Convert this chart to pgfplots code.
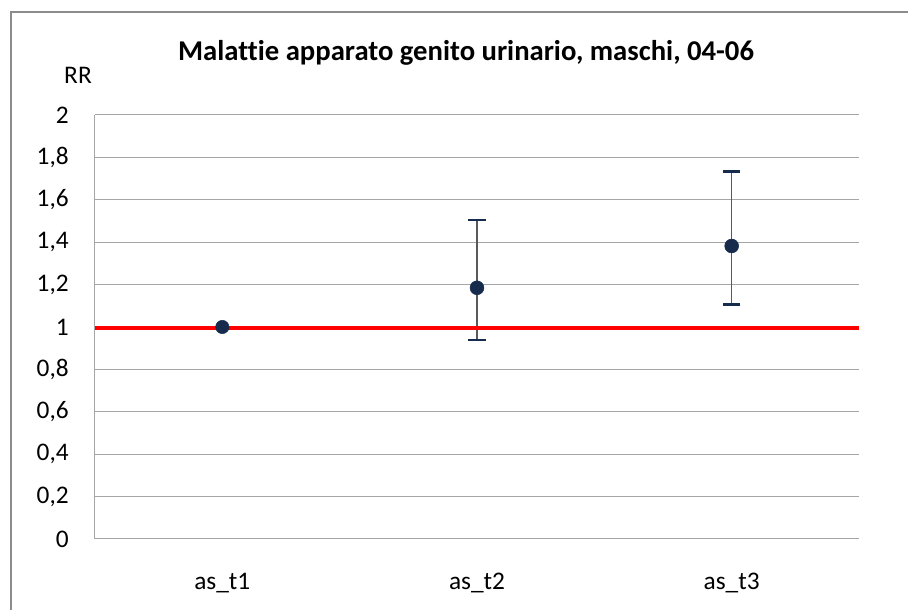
\documentclass[border=0pt]{standalone}
\usepackage{pgfplots}
\pgfplotsset{compat=1.18}
\usepackage{fontspec}
\setmainfont{Carlito}[Ligatures=NoCommon]

\definecolor{navy}{HTML}{172B4D}
\definecolor{errgray}{HTML}{595959}
\definecolor{gridgray}{HTML}{A6A6A6}
\definecolor{framegray}{HTML}{8C8C8C}

\begin{document}
\begin{tikzpicture}
% 1 px of the reference = 0.75pt
\path[use as bounding box] (0pt,0pt) rectangle (681pt,457.5pt);
% chart frame (only left and top edges visible)
\draw[framegray, line width=1.5pt] (8.25pt,0pt) -- (8.25pt,448.5pt) -- (681pt,448.5pt);
\node[font=\fontsize{21.5}{23}\selectfont\bfseries] at (349.5pt,417.5pt) {Malattie apparato genito urinario, maschi, 04-06};
\node[font=\fontsize{19}{21}\selectfont] at (58.5pt,401.25pt) {RR};

\begin{axis}[
  at={(71.25pt,53.25pt)}, anchor=south west,
  scale only axis,
  width=573pt, height=318pt,
  xmin=-0.5, xmax=2.5,
  ymin=0, ymax=2,
  xtick=\empty,
  ytick={0,0.2,...,2.01},
  yticklabel={\pgfmathprintnumber[fixed, precision=1, use comma]{\tick}},
  /pgf/number format/assume math mode=true,
  major tick length=0pt,
  ymajorgrids,
  grid style={gridgray, line width=0.75pt},
  axis x line=none,
  axis line style={gridgray, line width=0.75pt},
  axis y line*=left,
  tick label style={font=\fontsize{19}{21}\selectfont},
  yticklabel style={anchor=east, inner sep=0pt, xshift=-19.5pt},
  clip=false,
]
\addplot[only marks, mark=*, mark size=5pt, color=navy] coordinates {(0,1.0)};
\addplot[only marks, mark=*, mark size=5.2pt, color=navy,
  error bars/.cd, y dir=both, y explicit,
  error bar style={errgray, line width=1pt},
  error mark options={rotate=90, navy, mark size=6.5pt, line width=2pt}]
  coordinates {
    (1,1.185) -= (0,0.246) += (0,0.320)
    (2,1.382) -= (0,0.275) += (0,0.351)
  };
\addplot[red, line width=3pt] coordinates {(-0.5,0.995) (2.5,0.995)};
\node[font=\fontsize{19}{21}\selectfont, anchor=base, yshift=-38pt] at (axis cs:0,0) {as\_t1};
\node[font=\fontsize{19}{21}\selectfont, anchor=base, yshift=-38pt] at (axis cs:1,0) {as\_t2};
\node[font=\fontsize{19}{21}\selectfont, anchor=base, yshift=-38pt] at (axis cs:2,0) {as\_t3};
\end{axis}
\end{tikzpicture}
\end{document}
